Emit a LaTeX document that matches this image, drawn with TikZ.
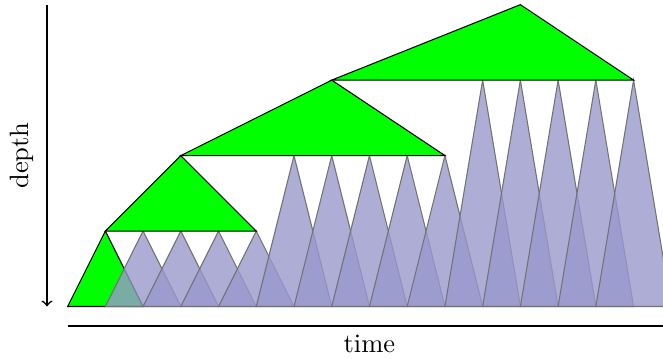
\documentclass[tikz,border=0pt]{standalone}
\definecolor{greenfill}{RGB}{0,255,0}
\definecolor{bluefill}{RGB}{152,152,204}
\begin{document}
\begin{tikzpicture}[x=0.5cm,y=0.5cm,
  greentri/.style={fill=greenfill, draw=black, line width=0.4pt},
  bluetri/.style={fill=bluefill, fill opacity=0.8, draw=black!55, line width=0.4pt},
  lbl/.style={inner sep=0pt, font=\normalsize}]
\useasboundingbox (-1.792,-1.365) rectangle (15.78,8.123);
\clip (-1.792,-1.365) rectangle (15.78,8.123);
% level 1
\draw[greentri] (0,0) -- (1,2) -- (2,0) -- cycle;
\foreach \a in {2,...,5} \draw[bluetri] (\a-1,0) -- (\a,2) -- (\a+1,0) -- cycle;
% level 2
\draw[greentri] (1,2) -- (3,4) -- (5,2) -- cycle;
\foreach \a in {6,...,10} \draw[bluetri] (\a-1,0) -- (\a,4) -- (\a+1,0) -- cycle;
% level 3
\draw[greentri] (3,4) -- (7,6) -- (10,4) -- cycle;
\foreach \a in {11,...,15} \draw[bluetri] (\a-1,0) -- (\a,6) -- (\a+1,0) -- cycle;
% level 4
\draw[greentri] (7,6) -- (12,8) -- (15,6) -- cycle;
% depth axis
\coordinate (dtop) at (-0.546,8);
\coordinate (dbot) at (-0.546,0);
\draw[->, semithick] (dtop) -- (dbot);
\node[lbl, rotate=90] (depthlbl) at (-1.21,4) {depth};
% time axis
\coordinate (tl) at (0,-0.52);
\coordinate (tr) at (16,-0.52);
\draw[thick] (tl) -- (tr);
\node[lbl] (timelbl) at (8,-0.99) {time};
\end{tikzpicture}
\end{document}
